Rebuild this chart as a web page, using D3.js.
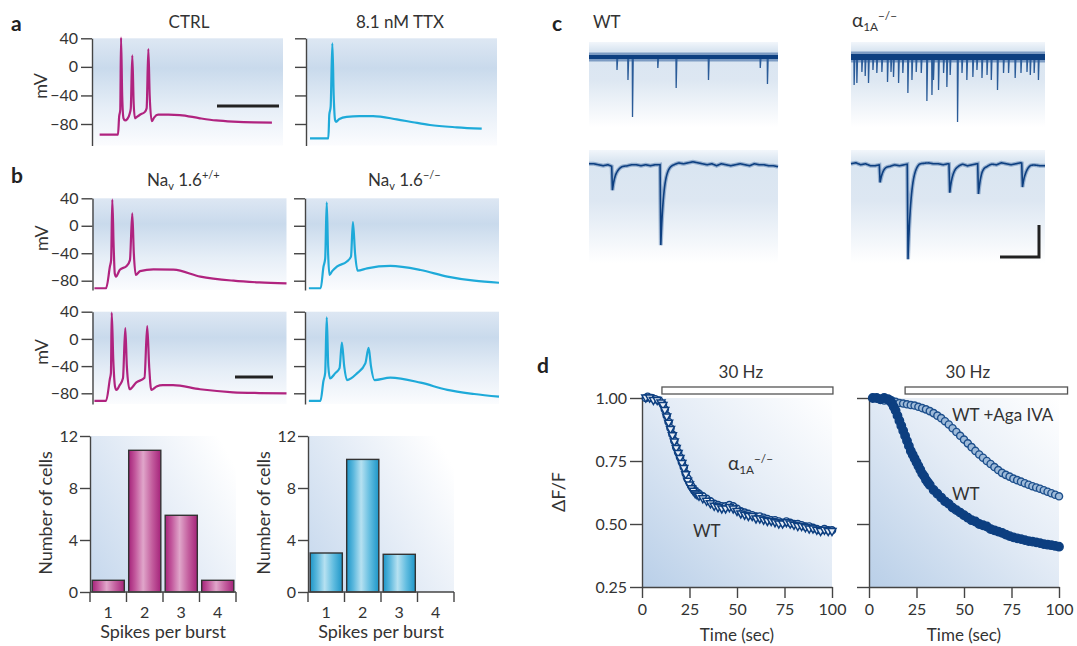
<!DOCTYPE html>
<meta charset="utf-8">
<style>
body { margin: 0; background: #fff; }
svg { font-family: Lato, "Open Sans", sans-serif; }
.axis path, .axis line { stroke: #444; stroke-width: 1.4; }
.axis text { font-size: 16px; fill: #333; font-family: Lato, sans-serif; }
.lbl { font-size: 17px; fill: #333; }
.title { font-size: 18px; fill: #333; }
.panel { font-size: 21px; font-weight: bold; fill: #222; }
</style>
<svg width="1077" height="646"></svg>
<script src="https://d3js.org/d3.v7.min.js"></script>
<script>

// ---- panel a / b : membrane potential traces  [time (a.u.), mV]
var mvTicks = [40, 0, -40, -80];
var traceCtrl = [[4,-95],[13.6,-95],[14.2,-70],[14.8,-60],[15.2,41],[15.8,-40],[16.5,-72],[17.3,-75],[18.5,-73],[19.8,-65],[20.3,-58],[21.1,16],[21.8,-50],[22.5,-72],[23.5,-70],[25.1,-67],[27.7,-63],[28.6,-58],[29.5,25],[30.2,-40],[31.3,-76],[32.5,-71],[34.6,-67],[40,-67],[46,-67.5],[56.5,-72],[65,-75],[73.8,-76.7],[85,-77.8],[94.2,-78]];
var traceTtx = [[2.1,-100],[11.7,-100],[12.2,-67],[12.9,-56],[13.8,33],[14.5,-40],[15.2,-74],[15.7,-77],[17.5,-73],[21.3,-70],[28,-69],[35.1,-69],[47.5,-73.5],[56,-77.5],[64.9,-81.4],[78.9,-84.6],[92,-86.5]];
var traceWt1 = [[1,-91],[7,-91],[9,-59],[9.6,-50],[10.2,38],[10.9,-30],[11.5,-70],[12.1,-74],[14.1,-64],[17.6,-58.6],[19.3,-50],[20.5,18],[21.3,-40],[22.3,-71.7],[24.5,-66],[31.4,-63.4],[41.8,-64],[55.6,-74],[72.7,-80],[86,-82.5],[100,-84]];
var traceWt2 = [[1,-91],[7,-91],[9,-58],[9.5,-50],[9.9,38.5],[10.7,-30],[11.6,-70],[12.3,-75],[14,-68],[15.7,-58],[16.9,16],[17.7,-40],[19.1,-74],[22.6,-64],[26.8,-57],[28.2,19],[29.2,-40],[30.3,-75],[33,-70],[36.3,-68],[41.5,-68],[55.4,-74],[72.5,-78.5],[86,-79.6],[100,-80]];
var traceKo1 = [[2,-91],[8.1,-91],[9.5,-60],[10.4,-48],[11.2,34],[11.9,-40],[12.6,-71.7],[14,-66],[16.4,-59.5],[21.6,-52],[23.7,-45],[24.7,5.5],[25.8,-40],[27.1,-65.4],[32,-62],[44,-58.5],[59.6,-64.4],[73.4,-74],[87.2,-80],[100,-83]];
var traceKo2 = [[2,-91],[8,-91],[9.5,-62],[10.4,-50],[11.2,31.6],[12,-40],[12.9,-58],[15.5,-50.7],[17.8,-43],[19,-5.6],[20.2,-40],[21.6,-60.5],[26.8,-50.7],[31.1,-36],[32.8,-13],[34,-40],[35.8,-60.5],[44,-57],[59.6,-64.4],[73.4,-75],[87.2,-81],[100,-85]];

// ---- histograms
var spikeCats = ["1", "2", "3", "4"];
var cellsWt = [0.9, 10.9, 5.9, 0.9];
var cellsKo = [3.0, 10.2, 2.9, 0];
var countTicks = [0, 4, 8, 12];

// ---- panel c : synaptic events [time (a.u.), amplitude (pA)]
var eventsWtTop = [[14.7,-13],[20.5,-23],[22.9,-60],[36.3,-11],[46,-31],[63.1,-23],[90.5,-11],[94.3,-27]];
var eventsKoTop = [[1.5,-28],[2.9,-26],[5.5,-15],[7.2,-19],[8.9,-26],[11.2,-13],[13.2,-16],[15.8,-15],[18.7,-25],[20.5,-15],[21.8,-20],[24.4,-26],[26.6,-16],[29.2,-36],[31.3,-23],[33.5,-15],[36.1,-16],[39,-44],[41.6,-38],[42.4,-23],[45,-33],[47.6,-16],[49.3,-30],[51,-18],[54.8,-65],[57.1,-16],[59.6,-23],[62.7,-20],[64.8,-13],[67.4,-21],[70,-18],[72.2,-23],[75.4,-33],[78.5,-16],[81.1,-16],[84.5,-21],[87.5,-16],[90.6,-15],[92.3,-18],[94.3,-16],[96.5,-23]];
var eventsWtBottom = [[12,-24],[37.6,-82]];
var eventsKoBottom = [[14.6,-18],[29,-97],[50.5,-29],[65.3,-31],[88,-24]];
var baseTimes = [0,2.5,5,7.5,10,12.5,15,17.5,20,22.5,25,27.5,30,32.5,35,37.5,40,42.5,45,47.5,50,52.5,55,57.5,60,62.5,65,67.5,70,72.5,75,77.5,80,82.5,85,87.5,90,92.5,95,97.5,100];
var baseWtBottom = [1,1,0,-1,0,-2,-2,-1,-1,0,0,-1,0,-1,0,0,1,1,1,2,1,2,3,2,1,0,1,-1,1,0,-1,0,1,0,-1,1,0,0,-1,-1,-2];
var baseKoBottom = [1,2,0,1,-1,-1,0,0,-1,0,-1,0,1,2,3,2,2,1,1,0,1,0,0,1,-1,0,1,2,0,1,0,2,1,0,1,2,0,1,0,-1,-1];

// ---- panel d : dF/F vs time (sec)
var dffTicks = [0.25, 0.5, 0.75, 1.0];
var timeTicks = [0, 25, 50, 75, 100];
var stimLeft = [10.5, 100.5];
var stimRight = [19, 104.5];
var dffKoLeft = [[2,1.00],[4,1.00],[6,0.99],[8,0.99],[10,0.98],[11,0.97],[12,0.95],[13,0.925],[14,0.90],[15,0.875],[16,0.85],[17,0.825],[18,0.80],[19,0.78],[20,0.76],[21,0.74],[22,0.72],[23,0.695],[24,0.67],[25,0.655],[26,0.64],[27,0.63],[28,0.62],[29,0.615],[30,0.61],[32,0.60],[34,0.59],[36,0.58],[38,0.57],[40,0.565],[42,0.56],[44,0.56],[46,0.565],[48,0.56],[50,0.55],[52,0.54],[54,0.535],[56,0.53],[58,0.53],[60,0.52],[62,0.52],[64,0.515],[66,0.51],[68,0.51],[70,0.505],[72,0.50],[74,0.50],[76,0.505],[78,0.50],[80,0.495],[82,0.49],[84,0.49],[86,0.485],[88,0.48],[90,0.48],[92,0.475],[94,0.47],[96,0.475],[98,0.47],[100,0.47]];
var dffWtLeft = [[2,1.00],[3,1.005],[5,1.00],[7,0.995],[9,0.99],[11,0.975],[12,0.955],[13,0.93],[14,0.905],[15,0.88],[16,0.855],[17,0.83],[18,0.805],[19,0.785],[20,0.765],[21,0.745],[22,0.725],[23,0.70],[24,0.68],[25,0.665],[26,0.65],[27,0.64],[28,0.63],[29,0.625],[30,0.62],[32,0.61],[34,0.60],[36,0.59],[38,0.58],[40,0.575],[42,0.57],[44,0.57],[46,0.575],[48,0.57],[50,0.56],[52,0.55],[54,0.545],[56,0.54],[58,0.535],[60,0.53],[62,0.53],[64,0.525],[66,0.52],[68,0.515],[70,0.515],[72,0.51],[74,0.505],[76,0.51],[78,0.505],[80,0.50],[82,0.50],[84,0.495],[86,0.49],[88,0.49],[90,0.485],[92,0.48],[94,0.475],[96,0.48],[98,0.475],[100,0.475]];
var dffWtRight = [[2,1.00],[4,1.00],[6,0.995],[8,1.00],[10,0.995],[11,0.99],[12,0.98],[13,0.965],[14,0.95],[15,0.93],[16,0.91],[17,0.89],[18,0.87],[19,0.85],[20,0.83],[21,0.81],[22,0.79],[23,0.775],[24,0.76],[25,0.745],[26,0.73],[27,0.715],[28,0.70],[29,0.69],[30,0.675],[31,0.665],[32,0.655],[34,0.635],[36,0.62],[38,0.605],[40,0.59],[42,0.58],[44,0.565],[46,0.555],[48,0.545],[50,0.535],[52,0.525],[54,0.515],[56,0.51],[58,0.50],[60,0.495],[62,0.49],[64,0.48],[66,0.475],[68,0.47],[70,0.465],[72,0.458],[74,0.452],[76,0.447],[78,0.443],[80,0.44],[82,0.436],[84,0.432],[86,0.43],[88,0.427],[90,0.424],[92,0.42],[94,0.418],[96,0.416],[98,0.413],[100,0.41]];
var dffAgaRight = [[2,1.00],[4,1.00],[6,0.995],[8,0.99],[10,0.99],[12,0.99],[14,0.985],[16,0.98],[18,0.978],[20,0.975],[22,0.972],[24,0.97],[26,0.965],[28,0.96],[30,0.955],[32,0.948],[34,0.94],[36,0.93],[38,0.92],[40,0.908],[42,0.895],[44,0.88],[46,0.865],[48,0.85],[50,0.835],[52,0.82],[54,0.805],[56,0.79],[58,0.776],[60,0.763],[62,0.75],[64,0.738],[66,0.726],[68,0.714],[70,0.703],[72,0.695],[74,0.688],[76,0.68],[78,0.674],[80,0.668],[82,0.662],[84,0.656],[86,0.65],[88,0.645],[90,0.64],[92,0.634],[94,0.628],[96,0.622],[98,0.616],[100,0.61]];

var magenta = "#b0237f", cyan = "#1eaad9", navy = "#0d3f80";

var svg = d3.select("svg");
var defs = svg.append("defs");

function gradient(id, x1, y1, x2, y2, stops) {
  var g = defs.append("linearGradient").attr("id", id)
      .attr("x1", x1).attr("y1", y1).attr("x2", x2).attr("y2", y2);
  stops.forEach(function(s) { g.append("stop").attr("offset", s[0]).attr("stop-color", s[1]); });
}
gradient("bgTrace", 0, 0, 0, 1, [[0, "#dde7f3"], [0.28, "#c9daec"], [0.65, "#e6eef7"], [1, "#fbfcfe"]]);
gradient("bgC", 0, 0, 0, 1, [[0, "#f2f6fb"], [0.1, "#d9e5f1"], [0.45, "#dde7f2"], [1, "#ffffff"]]);
gradient("bgBar", 0, 0.8, 1, 0.2, [[0, "#c9daee"], [0.6, "#eaf0f8"], [1, "#ffffff"]]);
gradient("bgD", 0, 1, 1, 0, [[0, "#b9cfe8"], [0.55, "#e4ecf6"], [1, "#ffffff"]]);
gradient("barMag", 0, 0, 1, 0, [[0, "#a5237a"], [0.2, "#c2579c"], [0.45, "#e0a6ca"], [0.72, "#c4609f"], [1, "#a5237a"]]);
gradient("barCyan", 0, 0, 1, 0, [[0, "#1e96c8"], [0.2, "#58b6dc"], [0.45, "#b6e1f1"], [0.72, "#62bde0"], [1, "#1e96c8"]]);

function text(x, y, str, cls, anchor) {
  return svg.append("text").attr("x", x).attr("y", y).attr("class", cls || "lbl")
    .attr("text-anchor", anchor || "start").text(str);
}

// ---------- trace plots (a, b)
function tracePlot(o) {
  var y = d3.scaleLinear().domain([40, -80]).range([o.y40, o.y80]);
  var vb = y.invert(o.yb);
  y.domain([40, vb]).range([o.y40, o.yb]);
  var x = d3.scaleLinear().domain([0, 100]).range([o.x0, o.x0 + o.w]);
  svg.append("rect").attr("x", o.x0).attr("y", o.y40)
    .attr("width", o.w).attr("height", o.yb - o.y40).attr("fill", "url(#bgTrace)");
  svg.append("g").attr("class", "axis").attr("transform", "translate(" + o.x0 + ",0)")
    .call(d3.axisLeft(y).tickValues(mvTicks).tickSize(11).tickSizeOuter(0).tickPadding(3)
      .tickFormat(o.labels ? null : function() { return ""; }));
  svg.append("path").datum(o.data)
    .attr("fill", "none").attr("stroke", o.color).attr("stroke-width", 2.2)
    .attr("stroke-linejoin", "round")
    .attr("d", d3.line().x(function(d) { return x(d[0]); }).y(function(d) { return y(d[1]); }).curve(d3.curveMonotoneX));
  if (o.labels) {
    svg.append("text").attr("class", "title")
      .attr("transform", "translate(" + (o.x0 - 45) + "," + ((o.y40 + o.yb) / 2 - 6) + ") rotate(-90)")
      .attr("text-anchor", "middle").text("mV");
  }
}

tracePlot({x0: 92, w: 191, y40: 38.3, y80: 124, yb: 145.5, data: traceCtrl, color: magenta, labels: true});
tracePlot({x0: 306, w: 191, y40: 38.3, y80: 124, yb: 145.5, data: traceTtx, color: cyan, labels: false});
tracePlot({x0: 92.5, w: 194, y40: 198.3, y80: 280.7, yb: 290, data: traceWt1, color: magenta, labels: true});
tracePlot({x0: 305, w: 194, y40: 198.3, y80: 280.7, yb: 290, data: traceKo1, color: cyan, labels: false});
tracePlot({x0: 92.5, w: 194, y40: 311.7, y80: 393.3, yb: 404, data: traceWt2, color: magenta, labels: true});
tracePlot({x0: 305, w: 194, y40: 311.7, y80: 393.3, yb: 404, data: traceKo2, color: cyan, labels: false});

// scale bars
svg.append("line").attr("x1", 217).attr("x2", 279).attr("y1", 106).attr("y2", 106).attr("stroke", "#222").attr("stroke-width", 3);
svg.append("line").attr("x1", 235).attr("x2", 273).attr("y1", 377).attr("y2", 377).attr("stroke", "#222").attr("stroke-width", 3);

text(11, 31, "a", "panel");
text(11, 183, "b", "panel");
text(189, 28, "CTRL", "lbl", "middle");
text(400, 28, "8.1 nM TTX", "lbl", "middle");

function navLabel(x, y, sup) {
  var t = svg.append("text").attr("x", x).attr("y", y).attr("class", "lbl");
  t.append("tspan").text("Na");
  t.append("tspan").attr("dy", 4).attr("font-size", 11).text("v");
  t.append("tspan").attr("dy", -4).text(" 1.6");
  t.append("tspan").attr("dy", -7).attr("font-size", 11).text(sup);
}
navLabel(147, 186, "+/+");
navLabel(368, 186, "\u2212/\u2212");

// ---------- histograms
function barChart(o) {
  var x = d3.scaleBand().domain(spikeCats).range([o.x0, o.x0 + 146]).paddingInner(0.12).paddingOuter(0.06);
  var y = d3.scaleLinear().domain([0, 12]).range([592, 436]);
  svg.append("rect").attr("x", o.x0).attr("y", 436).attr("width", 146).attr("height", 156).attr("fill", "url(#bgBar)");
  svg.append("g").selectAll("rect").data(o.values).join("rect")
    .attr("x", function(d, i) { return x(spikeCats[i]); })
    .attr("width", x.bandwidth())
    .attr("y", function(d) { return y(d); })
    .attr("height", function(d) { return y(0) - y(d); })
    .attr("fill", o.fill).attr("stroke", "#333").attr("stroke-width", 1.4)
    .style("display", function(d) { return d > 0 ? null : "none"; });
  svg.append("g").attr("class", "axis").attr("transform", "translate(" + o.x0 + ",0)")
    .call(d3.axisLeft(y).tickValues(countTicks).tickSize(10).tickSizeOuter(0).tickPadding(2));
  var edges = d3.range(spikeCats.length + 1).map(function(i) { return o.x0 + i * x.step(); });
  var ax = svg.append("g").attr("class", "axis");
  ax.append("line").attr("x1", o.x0).attr("x2", o.x0 + 146).attr("y1", y(0)).attr("y2", y(0));
  ax.selectAll(".edge").data(edges).join("line").attr("class", "edge")
    .attr("x1", function(d) { return d; }).attr("x2", function(d) { return d; })
    .attr("y1", y(0)).attr("y2", y(0) + 10);
  ax.selectAll("text").data(spikeCats).join("text")
    .attr("x", function(d) { return x(d) + x.bandwidth() / 2; }).attr("y", 618)
    .attr("text-anchor", "middle").text(function(d) { return d; });
  text(o.x0 + 73, 638, "Spikes per burst", "title", "middle");
  svg.append("text").attr("class", "title")
    .attr("transform", "translate(" + (o.x0 - 38) + ",513) rotate(-90)")
    .attr("text-anchor", "middle").text("Number of cells");
}
barChart({x0: 90, values: cellsWt, fill: "url(#barMag)"});
barChart({x0: 308, values: cellsKo, fill: "url(#barCyan)"});

// ---------- panel c
function eventTrace(o) {
  var x = d3.scaleLinear().domain([0, 100]).range([o.x0, o.x0 + o.w]);
  var y = d3.scaleLinear().domain(o.ydom).range([o.y1, o.y0]);
  svg.append("rect").attr("x", o.x0).attr("y", o.y0).attr("width", o.w).attr("height", o.y1 - o.y0).attr("fill", "url(#bgC)");
  if (o.band) {
    svg.append("g").selectAll("path").data(o.events).join("path")
      .attr("fill", "none").attr("stroke", "#2a5b98").attr("stroke-width", 1.3)
      .attr("d", function(d) { return "M" + x(d[0]) + "," + y(0) + "L" + x(d[0] + 0.12) + "," + y(d[1]) + "L" + x(d[0] + 0.5) + "," + y(0); });
    svg.append("line").attr("x1", x(0)).attr("x2", x(100)).attr("y1", y(0)).attr("y2", y(0))
      .attr("stroke", "#2f5f9c").attr("stroke-opacity", 0.55).attr("stroke-width", o.band + 5);
    svg.append("line").attr("x1", x(0)).attr("x2", x(100)).attr("y1", y(0)).attr("y2", y(0))
      .attr("stroke", navy).attr("stroke-width", o.band);
  } else {
    var base = d3.scaleLinear().domain(baseTimes).range(o.base);
    var pts = d3.range(0, 100.01, 0.1).map(function(t) {
      var v = base(t);
      o.events.forEach(function(e) {
        var dt = t - e[0];
        if (dt >= 0 && dt < 0.4) v += e[1] * dt / 0.4;
        else if (dt >= 0.4) v += e[1] * Math.exp(-(dt - 0.4) / 1.6);
      });
      return [t, v];
    });
    var line = d3.line().x(function(d) { return x(d[0]); }).y(function(d) { return y(d[1]); });
    svg.append("path").datum(pts).attr("fill", "none").attr("stroke", "#2f5f9c").attr("stroke-opacity", 0.4)
      .attr("stroke-width", 4).attr("d", line);
    svg.append("path").datum(pts).attr("fill", "none").attr("stroke", navy).attr("stroke-width", 1.6)
      .attr("d", line);
  }
}
eventTrace({x0: 589, w: 189, y0: 42, y1: 127, ydom: [-70, 15], events: eventsWtTop, band: 4});
eventTrace({x0: 851, w: 194, y0: 42, y1: 127, ydom: [-70, 15], events: eventsKoTop, band: 6});
eventTrace({x0: 589, w: 189, y0: 150, y1: 263, ydom: [-100, 15], events: eventsWtBottom, base: baseWtBottom});
eventTrace({x0: 851, w: 194, y0: 150, y1: 263, ydom: [-100, 15], events: eventsKoBottom, base: baseKoBottom});

svg.append("path").attr("d", "M1000,257H1039V225").attr("fill", "none").attr("stroke", "#222").attr("stroke-width", 3);

text(552, 31, "c", "panel");
text(593, 28, "WT");
function alphaLabel(x, y, size) {
  var t = svg.append("text").attr("x", x).attr("y", y).attr("class", "lbl").style("font-size", size + "px");
  t.append("tspan").text("\u03b1");
  t.append("tspan").attr("dy", 4).attr("font-size", size * 0.62).text("1A");
  t.append("tspan").attr("dy", -11).attr("font-size", size * 0.62).text("\u2212/\u2212");
}
alphaLabel(852, 27, 19);

// ---------- panel d
function dffPlot(o) {
  var x = d3.scaleLinear().domain([0, 100]).range([o.x0, o.x0 + 190]);
  var y = d3.scaleLinear().domain([0.25, 1]).range([587, 398]);
  svg.append("rect").attr("x", o.x0).attr("y", 398).attr("width", 190).attr("height", 189).attr("fill", "url(#bgD)");
  svg.append("g").attr("class", "axis").attr("transform", "translate(" + o.x0 + ",0)")
    .call(d3.axisLeft(y).tickValues(dffTicks).tickSize(12).tickSizeOuter(0).tickPadding(3)
      .tickFormat(o.labels ? d3.format(".2f") : function() { return ""; }));
  svg.append("g").attr("class", "axis").attr("transform", "translate(0,587)")
    .call(d3.axisBottom(x).tickValues(timeTicks).tickSize(11).tickSizeOuter(0).tickPadding(6));
  svg.append("rect").attr("x", x(o.stim[0])).attr("y", 387).attr("width", x(o.stim[1]) - x(o.stim[0])).attr("height", 7)
    .attr("fill", "#fff").attr("stroke", "#555").attr("stroke-width", 1.3);
  text(x(52), 378, "30 Hz", "lbl", "middle");
  text(x(50), 641, "Time (sec)", "lbl", "middle");
  o.series.forEach(function(s) {
    var g = svg.append("g");
    if (s.shape === "tri") {
      g.selectAll("path").data(s.data).join("path")
        .attr("transform", function(d) { return "translate(" + x(d[0]) + "," + y(d[1]) + ")"; })
        .attr("d", "M-4,-3L4,-3L0,4Z")
        .attr("fill", s.fill).attr("stroke", s.stroke).attr("stroke-width", 1.5);
    } else {
      g.selectAll("circle").data(s.data).join("circle")
        .attr("cx", function(d) { return x(d[0]); }).attr("cy", function(d) { return y(d[1]); })
        .attr("r", s.r).attr("fill", s.fill).attr("stroke", s.stroke).attr("stroke-width", 1.4);
    }
  });
}
dffPlot({x0: 642, labels: true, stim: stimLeft, series: [
  {data: dffWtLeft, shape: "circle", r: 3.6, fill: "#dfe8f3", stroke: navy},
  {data: dffKoLeft, shape: "tri", fill: "#e8eef6", stroke: navy}
]});
dffPlot({x0: 869, labels: false, stim: stimRight, series: [
  {data: dffAgaRight, shape: "circle", r: 3.6, fill: "#9fbbd9", stroke: "#1d4f8c"},
  {data: dffWtRight, shape: "circle", r: 4.2, fill: navy, stroke: navy}
]});

text(537, 373, "d", "panel");
svg.append("text").attr("class", "title").attr("transform", "translate(565,492) rotate(-90)")
  .attr("text-anchor", "middle").text("\u0394F/F");
alphaLabel(728, 470, 19);
text(693, 537, "WT");
text(952, 421, "WT +Aga IVA");
text(952, 500, "WT");

</script>
